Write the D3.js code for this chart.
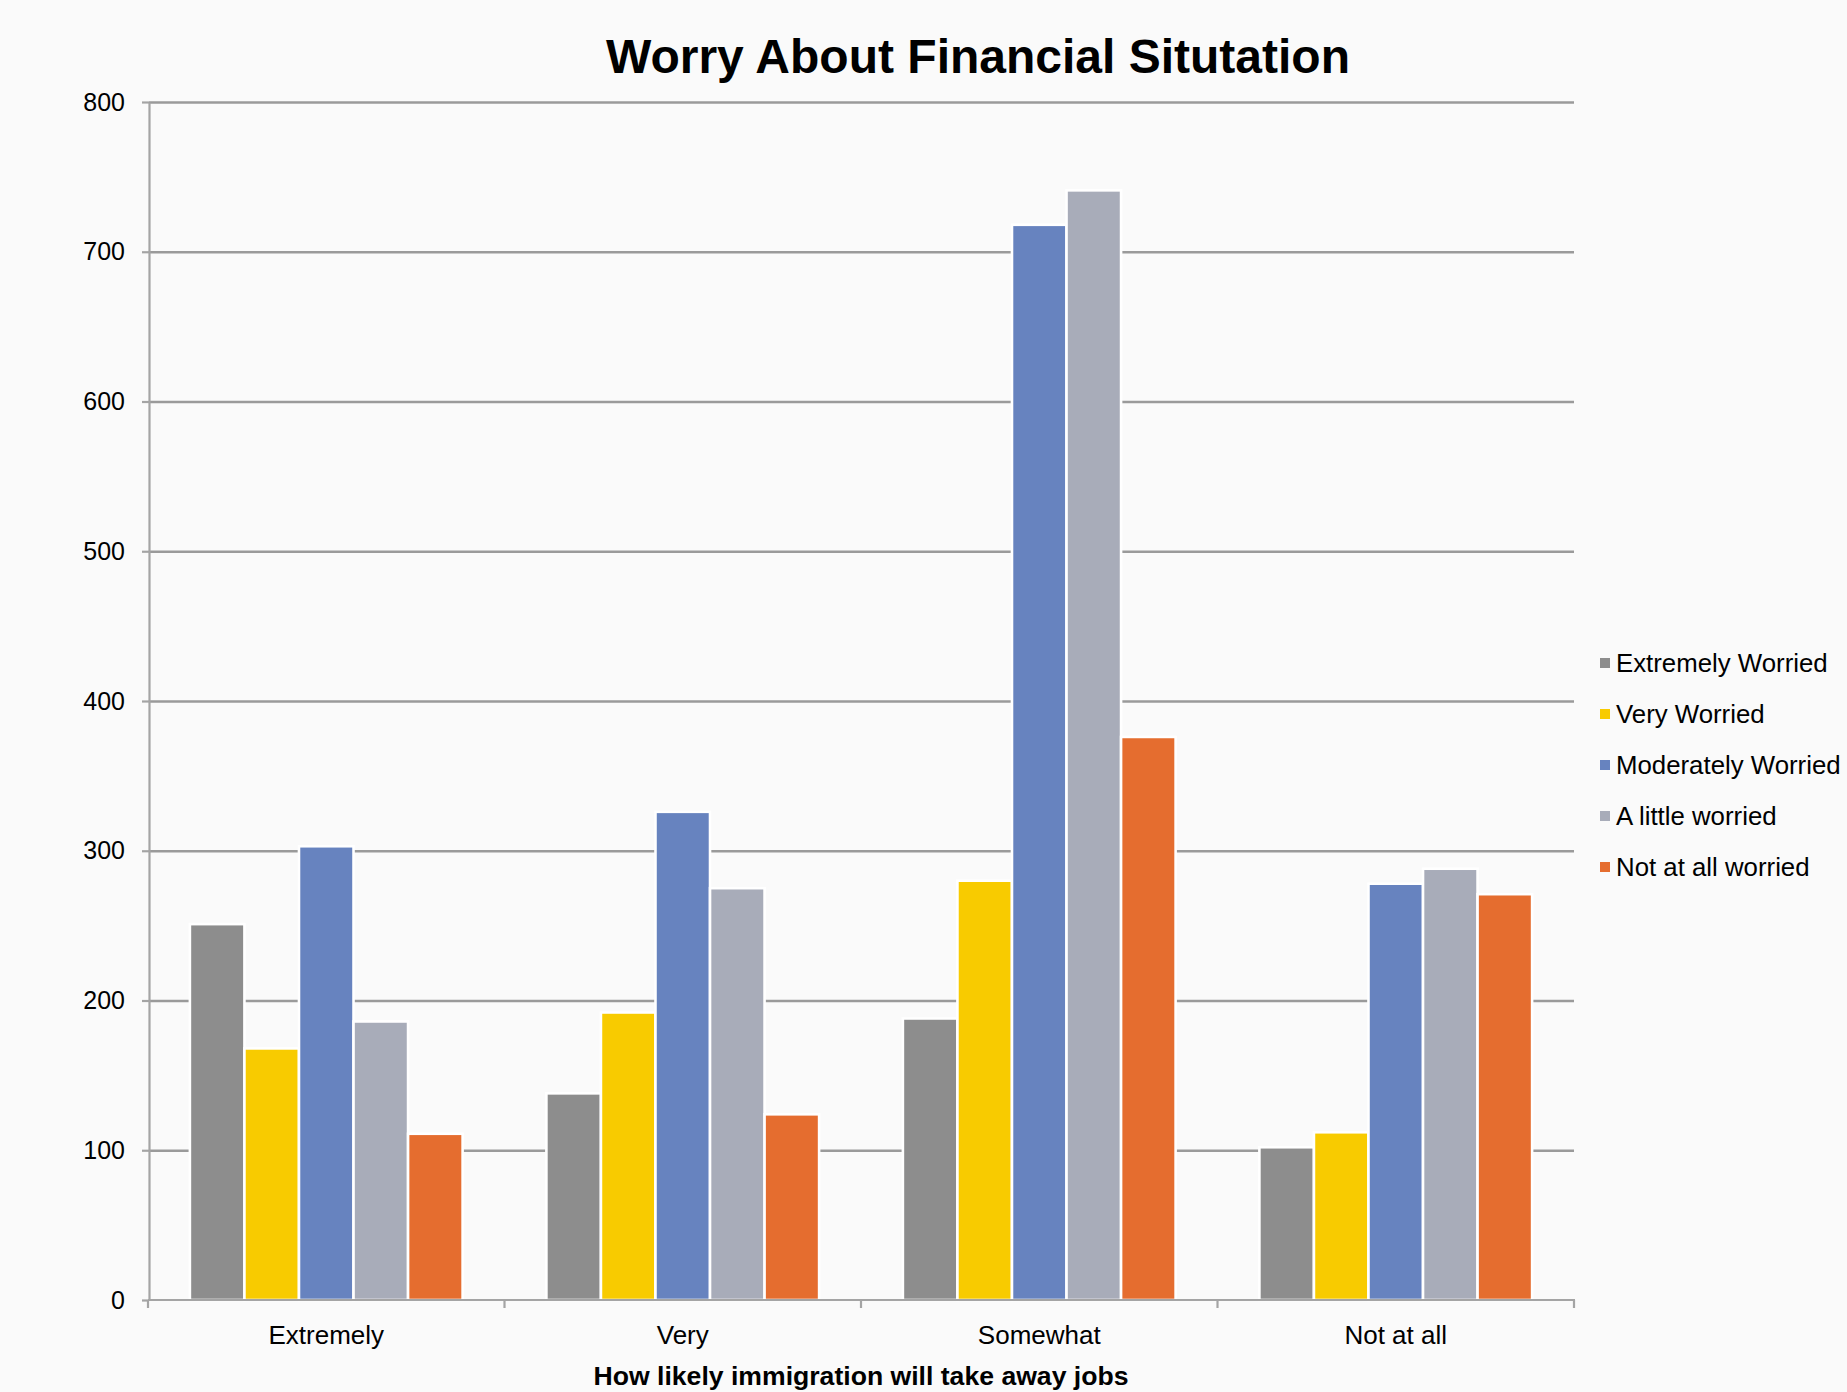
<!DOCTYPE html>
<html>
<head>
<meta charset="utf-8">
<script src="https://cdn.jsdelivr.net/npm/d3@7"></script>
<style>
  html, body { margin: 0; padding: 0; background: #fafafa; }
  svg { display: block; }
  text { font-family: "Liberation Sans", Arial, Helvetica, sans-serif; }
</style>
</head>
<body>
<script>
// ---------- data ----------
const categories = ["Extremely", "Very", "Somewhat", "Not at all"];
const seriesNames = ["Extremely Worried", "Very Worried", "Moderately Worried", "A little worried", "Not at all worried"];
const extremelyWorried  = [251, 138, 188, 102];
const veryWorried       = [168, 192, 280, 112];
const moderatelyWorried = [303, 326, 718, 278];
const aLittleWorried    = [186, 275, 741, 288];
const notAtAllWorried   = [111, 124, 376, 271];
const yTicks = [0, 100, 200, 300, 400, 500, 600, 700, 800];
const seriesColors = ["#8d8d8d", "#f8cb00", "#6783bf", "#a8acb9", "#e56d2f"];
const chartTitle = "Worry About Financial Situtation";
const xAxisTitle = "How likely immigration will take away jobs";

const seriesValues = [extremelyWorried, veryWorried, moderatelyWorried, aLittleWorried, notAtAllWorried];

// ---------- layout ----------
const W = 1847, H = 1392;
const plot = { left: 148, right: 1574, top: 102, bottom: 1300 };

const svg = d3.select("body").append("svg").attr("width", W).attr("height", H);
svg.append("rect").attr("width", W).attr("height", H).attr("fill", "#fafafa");

// ---------- scales ----------
const y = d3.scaleLinear().domain([0, 800]).range([plot.bottom, plot.top]);
const x0 = d3.scaleBand().domain(categories).range([plot.left, plot.right]).paddingInner(0.235).paddingOuter(0.1175);
const x1 = d3.scaleBand().domain(seriesNames).range([0, x0.bandwidth()]).padding(0);
const color = d3.scaleOrdinal().domain(seriesNames).range(seriesColors);

// ---------- gridlines ----------
const grid = svg.append("g").attr("transform", `translate(${plot.left + 1},0)`)
  .call(d3.axisLeft(y).tickValues(yTicks.filter(v => v > 0)).tickSize(-(plot.right - plot.left - 1)).tickFormat(""));
grid.select(".domain").remove();
grid.selectAll("line").attr("stroke", "#9a9a9a").attr("stroke-width", 2.3);

// ---------- bars ----------
const barData = [];
categories.forEach((c, ci) => {
  seriesNames.forEach((s, si) => barData.push({ cat: c, series: s, value: seriesValues[si][ci] }));
});
svg.append("g").selectAll("rect").data(barData).join("rect")
  .attr("x", d => x0(d.cat) + x1(d.series))
  .attr("y", d => y(d.value))
  .attr("width", x1.bandwidth())
  .attr("height", d => y(0) - y(d.value))
  .attr("fill", d => color(d.series))
  .attr("stroke", "#ffffff")
  .attr("stroke-width", 2.6);

// ---------- y axis ----------
const yAxis = svg.append("g").attr("transform", `translate(${plot.left + 1},0)`)
  .call(d3.axisLeft(y).tickValues(yTicks).tickSize(7).tickPadding(17).tickSizeOuter(0));
yAxis.select(".domain").attr("stroke", "#a4a4a4").attr("stroke-width", 2.2);
yAxis.selectAll(".tick line").attr("stroke", "#a4a4a4").attr("stroke-width", 2.2);
yAxis.selectAll(".tick text").attr("fill", "#000").style("font-size", "25px")
  .style("font-family", "'Liberation Sans', Arial, sans-serif");

// ---------- x axis ----------
const xAxisG = svg.append("g");
xAxisG.append("line")
  .attr("x1", plot.left).attr("x2", plot.right + 1)
  .attr("y1", y(0)).attr("y2", y(0))
  .attr("stroke", "#a4a4a4").attr("stroke-width", 2.2);
const boundaries = d3.range(categories.length + 1).map(i => plot.left + i * x0.step());
xAxisG.selectAll("line.tick").data(boundaries).join("line").attr("class", "tick")
  .attr("x1", d => d).attr("x2", d => d)
  .attr("y1", y(0)).attr("y2", y(0) + 8)
  .attr("stroke", "#a4a4a4").attr("stroke-width", 2.2);
xAxisG.selectAll("text").data(categories).join("text")
  .attr("x", d => x0(d) + x0.bandwidth() / 2)
  .attr("y", 1344)
  .attr("text-anchor", "middle")
  .style("font-size", "26px").attr("fill", "#000")
  .text(d => d);

// ---------- titles ----------
svg.append("text")
  .attr("x", 978).attr("y", 73)
  .attr("text-anchor", "middle")
  .style("font-size", "48px").style("font-weight", "bold").attr("fill", "#000")
  .text(chartTitle);

svg.append("text")
  .attr("x", (plot.left + plot.right) / 2).attr("y", 1385)
  .attr("text-anchor", "middle")
  .style("font-size", "26.6px").style("font-weight", "bold").attr("fill", "#000")
  .text(xAxisTitle);

// ---------- legend ----------
const legendY = d3.scalePoint().domain(seriesNames).range([663, 867]);
const legend = svg.append("g");
const li = legend.selectAll("g").data(seriesNames).join("g")
  .attr("transform", d => `translate(1600,${legendY(d)})`);
li.append("rect").attr("x", 0).attr("y", -5).attr("width", 10).attr("height", 10)
  .attr("fill", d => color(d));
li.append("text").attr("x", 16).attr("y", 9)
  .style("font-size", "25.8px").attr("fill", "#000")
  .text(d => d);
</script>
</body>
</html>
